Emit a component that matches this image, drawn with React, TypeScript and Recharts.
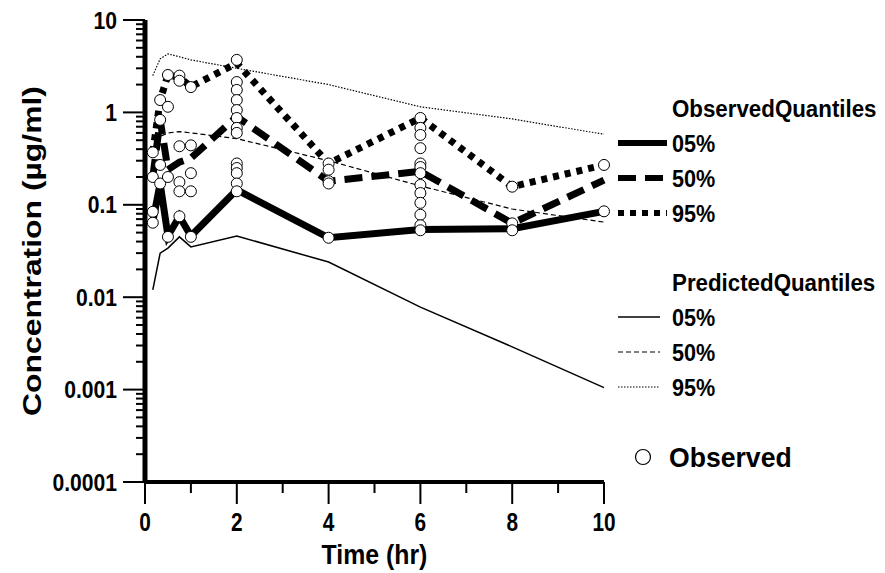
import React from "react";
import { ComposedChart, Line, Scatter, XAxis, YAxis, Label } from "recharts";

const FONT = "'Liberation Sans Narrow', 'Liberation Sans', Arial, sans-serif";

// nominal sampling times (hr)
const times = [0.17, 0.33, 0.5, 0.75, 1, 2, 4, 6, 8, 10];

// observed quantiles
const obs05 = [0.066, 0.17, 0.046, 0.075, 0.046, 0.145, 0.044, 0.054, 0.055, 0.085];
const obs50 = [0.2, 0.83, 0.24, 0.29, 0.32, 0.9, 0.18, 0.23, 0.063, 0.185];
const obs95 = [0.37, 1.36, 2.54, 2.4, 1.9, 3.4, 0.28, 0.87, 0.157, 0.27];

// predicted quantiles
const pred05 = [0.012, 0.03, 0.034, 0.045, 0.035, 0.046, 0.024, 0.0078, 0.0029, 0.00105];
const pred50 = [0.4, 0.55, 0.6, 0.62, 0.6, 0.52, 0.3, 0.16, 0.09, 0.065];
const pred95 = [2.5, 3.8, 4.3, 4.0, 3.7, 3.0, 2.0, 1.15, 0.85, 0.58];

// observed concentrations per time
const obsAt017 = [0.37, 0.2, 0.084, 0.064];
const obsAt033 = [1.36, 0.83, 0.27, 0.17];
const obsAt05 = [2.54, 1.15, 0.2, 0.045];
const obsAt075 = [2.5, 2.2, 0.43, 0.176, 0.14, 0.075];
const obsAt1 = [1.88, 0.44, 0.22, 0.14, 0.045];
const obsAt2 = [3.7, 2.13, 1.75, 1.36, 1.06, 0.87, 0.68, 0.6, 0.28, 0.25, 0.22, 0.17, 0.14];
const obsAt4 = [0.28, 0.24, 0.18, 0.17, 0.044];
const obsAt6 = [0.87, 0.68, 0.57, 0.41, 0.28, 0.256, 0.22, 0.164, 0.134, 0.105, 0.078, 0.06, 0.053];
const obsAt8 = [0.157, 0.063, 0.053];
const obsAt10 = [0.27, 0.085];
const obsGroups = [obsAt017, obsAt033, obsAt05, obsAt075, obsAt1, obsAt2, obsAt4, obsAt6, obsAt8, obsAt10];

const xTicks = [0, 1, 2, 3, 4, 5, 6, 7, 8, 9, 10];
const yDecades = [0.0001, 0.001, 0.01, 0.1, 1, 10];

const yTicks: number[] = [];
yDecades.forEach((d, i) => {
  yTicks.push(d);
  if (i < yDecades.length - 1) {
    for (let m = 2; m <= 9; m++) yTicks.push(+(m * d).toPrecision(3));
  }
});

const table = times.map((t, i) => ({
  t,
  o05: obs05[i],
  o50: obs50[i],
  o95: obs95[i],
  p05: pred05[i],
  p50: pred50[i],
  p95: pred95[i],
}));

const points = obsGroups.flatMap((vals, i) => vals.map((c) => ({ t: times[i], c })));

const obsLines = [
  { key: "o05", name: "05%", width: 7, dash: undefined as string | undefined },
  { key: "o50", name: "50%", width: 7, dash: "18 9" },
  { key: "o95", name: "95%", width: 7, dash: "6 6" },
];
const predLines = [
  { key: "p05", name: "05%", width: 1.5, dash: undefined as string | undefined },
  { key: "p50", name: "50%", width: 1.2, dash: "5 3" },
  { key: "p95", name: "95%", width: 1.2, dash: "1.5 1.5" },
];

const isDecade = (v: number) => Math.abs(Math.log10(v) - Math.round(Math.log10(v))) < 1e-9;

// bold text squeezed horizontally, to look like a condensed face
function NText(props: any) {
  const { x, y, sx = 0.85, size = 24, anchor = "start", children, ...rest } = props;
  return (
    <text
      transform={`translate(${x} ${y}) scale(${sx} 1)`}
      dy="0.36em"
      textAnchor={anchor}
      fontFamily={FONT}
      fontWeight="bold"
      fontSize={size}
      fill="#000"
      {...rest}
    >
      {children}
    </text>
  );
}

function YTick(props: any) {
  const { x, y, payload } = props;
  const major = isDecade(payload.value);
  const len = major ? 22 : 9;
  return (
    <g>
      <line x1={x - len} x2={x} y1={y} y2={y} stroke="#000" strokeWidth={2} />
      {major && (
        <NText x={x - len - 6} y={y} anchor="end" size={24} sx={0.88}>
          {String(payload.value)}
        </NText>
      )}
    </g>
  );
}

function XTick(props: any) {
  const { x, y, payload } = props;
  const major = payload.value % 2 === 0;
  const len = major ? 22 : 11;
  return (
    <g>
      <line x1={x} x2={x} y1={y} y2={y + len} stroke="#000" strokeWidth={2} />
      {major && (
        <NText x={x} y={y + 40} anchor="middle" size={26} sx={0.8}>
          {payload.value}
        </NText>
      )}
    </g>
  );
}

function YTitle(props: any) {
  const { viewBox } = props;
  const cx = viewBox.x + 32;
  const cy = viewBox.y + viewBox.height / 2;
  return (
    <text
      x={cx}
      y={cy}
      transform={`rotate(-90 ${cx} ${cy})`}
      textAnchor="middle"
      dy="0.36em"
      fontFamily={FONT}
      fontWeight="bold"
      fontSize={26}
      fill="#000"
      textLength={330}
      lengthAdjust="spacingAndGlyphs"
    >
      Concentration (µg/ml)
    </text>
  );
}

function XTitle(props: any) {
  const { viewBox } = props;
  const cx = viewBox.x + viewBox.width / 2;
  const cy = viewBox.y + 72;
  return (
    <NText x={cx} y={cy} anchor="middle" size={27} sx={0.92}>
      Time (hr)
    </NText>
  );
}

function Dot(props: any) {
  const { cx, cy } = props;
  return <circle cx={cx} cy={cy} r={5.5} fill="#fff" stroke="#000" strokeWidth={1} />;
}

function LegendBlock() {
  return (
    <svg width={273} height={400} style={{ position: "absolute", left: 612, top: 80 }}>
      <NText x={60} y={28} size={24} sx={0.93}>ObservedQuantiles</NText>
      {obsLines.map((s, i) => (
        <g key={s.key}>
          <line x1={6} x2={55} y1={63 + i * 35} y2={63 + i * 35} stroke="#000" strokeWidth={s.width - 1} strokeDasharray={s.dash} />
          <NText x={60} y={63 + i * 35} size={24} sx={0.9}>{s.name}</NText>
        </g>
      ))}
      <NText x={60} y={202} size={24} sx={0.93}>PredictedQuantiles</NText>
      {predLines.map((s, i) => (
        <g key={s.key}>
          <line x1={6} x2={48} y1={237 + i * 35} y2={237 + i * 35} stroke="#000" strokeWidth={s.width} strokeDasharray={s.dash} />
          <NText x={60} y={237 + i * 35} size={24} sx={0.9}>{s.name}</NText>
        </g>
      ))}
      <circle cx={31} cy={377} r={7.5} fill="#fff" stroke="#000" strokeWidth={1.2} />
      <NText x={57} y={377} size={28} sx={0.95}>Observed</NText>
    </svg>
  );
}

export default function App() {
  return (
    <div style={{ position: "absolute", left: 0, top: 0, width: 885, height: 573, background: "#fff" }}>
      <ComposedChart
        width={885}
        height={573}
        data={table}
        margin={{ top: 20, right: 281, left: 0, bottom: 0 }}
      >
        <XAxis
          dataKey="t"
          type="number"
          domain={[0, 10]}
          ticks={xTicks}
          interval={0}
          tickSize={0}
          tickMargin={0}
          tickLine={false}
          height={91}
          axisLine={{ stroke: "#000", strokeWidth: 4 }}
          tick={<XTick />}
        >
          <Label content={<XTitle />} />
        </XAxis>
        <YAxis
          scale="log"
          domain={[0.0001, 10]}
          allowDataOverflow
          ticks={yTicks}
          interval={0}
          tickSize={0}
          tickMargin={0}
          tickLine={false}
          width={145}
          axisLine={{ stroke: "#000", strokeWidth: 5 }}
          tick={<YTick />}
        >
          <Label content={<YTitle />} />
        </YAxis>
        {predLines.map((s) => (
          <Line
            key={s.key}
            dataKey={s.key}
            type="linear"
            stroke="#000"
            strokeWidth={s.width}
            strokeDasharray={s.dash}
            dot={false}
            activeDot={false}
            isAnimationActive={false}
          />
        ))}
        {obsLines.map((s) => (
          <Line
            key={s.key}
            dataKey={s.key}
            type="linear"
            stroke="#000"
            strokeWidth={s.width}
            strokeDasharray={s.dash}
            strokeLinejoin="miter"
            dot={false}
            activeDot={false}
            isAnimationActive={false}
          />
        ))}
        <Scatter data={points} dataKey="c" shape={<Dot />} isAnimationActive={false} />
      </ComposedChart>
      <LegendBlock />
    </div>
  );
}
